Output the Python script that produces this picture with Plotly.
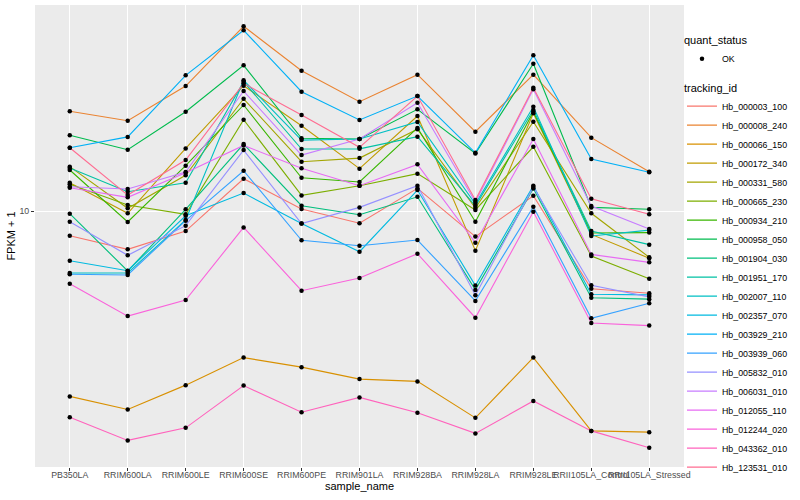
import plotly.graph_objects as go

samples = ["PB350LA", "RRIM600LA", "RRIM600LE", "RRIM600SE", "RRIM600PE", "RRIM901LA",
           "RRIM928BA", "RRIM928LA", "RRIM928LE", "RRII105LA_Control", "RRII105LA_Stressed"]

tracking_ids = ["Hb_000003_100", "Hb_000008_240", "Hb_000066_150", "Hb_000172_340", "Hb_000331_580",
                "Hb_000665_230", "Hb_000934_210", "Hb_000958_050", "Hb_001904_030", "Hb_001951_170",
                "Hb_002007_110", "Hb_002357_070", "Hb_003929_210", "Hb_003939_060", "Hb_005832_010",
                "Hb_006031_010", "Hb_012055_110", "Hb_012244_020", "Hb_043362_010", "Hb_123531_010"]

# FPKM + 1 values, one list per tracking_id, in sample order
Hb_000003_100 = [8.67, 8.02, 8.91, 12.04, 10.12, 9.32, 11.39, 8.63, 10.92, 6.39, 6.23]
Hb_000008_240 = [17.75, 16.82, 20.53, 28.96, 22.43, 18.76, 21.92, 15.79, 21.92, 15.25, 12.54]
Hb_000066_150 = [3.44, 3.19, 3.67, 4.30, 4.07, 3.80, 3.75, 3.04, 4.30, 2.82, 2.80]
Hb_000172_340 = [11.77, 9.87, 14.34, 20.57, 16.34, 12.76, 17.28, 7.96, 17.55, 8.74, 7.62]
Hb_000331_580 = [12.91, 10.16, 12.28, 19.08, 13.28, 13.56, 16.01, 10.17, 16.72, 9.87, 7.66]
Hb_000665_230 = [11.66, 10.35, 9.81, 16.92, 10.94, 11.57, 12.40, 10.06, 14.47, 7.72, 6.77]
Hb_000934_210 = [12.66, 9.39, 12.98, 18.41, 12.11, 11.82, 16.13, 9.40, 17.71, 8.81, 8.83]
Hb_000958_050 = [15.47, 14.23, 17.71, 23.13, 15.20, 15.14, 17.96, 13.92, 23.35, 10.21, 10.10]
Hb_001904_030 = [9.85, 7.08, 10.10, 14.70, 10.31, 9.79, 10.85, 6.35, 11.39, 6.07, 6.02]
Hb_001951_170 = [12.81, 11.17, 11.77, 21.05, 14.29, 14.30, 15.34, 10.29, 17.89, 8.91, 8.24]
Hb_002007_110 = [7.00, 7.00, 9.50, 21.22, 15.04, 15.14, 16.70, 10.41, 18.23, 8.66, 8.96]
Hb_002357_070 = [7.51, 7.09, 9.73, 11.09, 9.30, 7.91, 11.28, 6.51, 11.57, 6.19, 6.17]
Hb_003929_210 = [14.39, 15.32, 21.84, 28.30, 19.87, 16.89, 19.38, 13.98, 24.51, 13.49, 12.50]
Hb_003939_060 = [6.95, 6.92, 9.46, 12.61, 8.45, 8.19, 8.46, 5.96, 10.25, 5.39, 5.88]
Hb_005832_010 = [9.40, 7.75, 9.19, 14.20, 9.30, 10.21, 11.57, 6.16, 11.48, 6.52, 6.10]
Hb_006031_010 = [11.50, 11.35, 12.52, 19.95, 13.80, 15.14, 18.65, 10.53, 20.15, 10.29, 9.02]
Hb_012055_110 = [11.43, 10.82, 12.47, 14.59, 12.79, 11.57, 13.08, 8.33, 15.14, 7.79, 7.44]
Hb_012244_020 = [6.58, 5.46, 5.99, 9.10, 6.32, 6.80, 7.82, 5.41, 9.96, 5.25, 5.17]
Hb_043362_010 = [3.05, 2.67, 2.87, 3.66, 3.14, 3.42, 3.13, 2.78, 3.35, 2.82, 2.56]
Hb_123531_010 = [14.39, 10.96, 13.41, 20.85, 17.38, 14.43, 19.38, 10.65, 20.33, 10.73, 9.81]

series_values = [Hb_000003_100, Hb_000008_240, Hb_000066_150, Hb_000172_340, Hb_000331_580,
                 Hb_000665_230, Hb_000934_210, Hb_000958_050, Hb_001904_030, Hb_001951_170,
                 Hb_002007_110, Hb_002357_070, Hb_003929_210, Hb_003939_060, Hb_005832_010,
                 Hb_006031_010, Hb_012055_110, Hb_012244_020, Hb_043362_010, Hb_123531_010]

quant_status = ["OK"]
y_ticks = [10]

colors = ["#F8766D", "#EA8331", "#D89000", "#C09B00", "#A3A500", "#7CAE00", "#39B600", "#00BB4E",
          "#00BF7D", "#00C1A3", "#00BFC4", "#00BAE0", "#00B0F6", "#35A2FF", "#9590FF", "#C77CFF",
          "#E76BF3", "#FA62DB", "#FF62BC", "#FF6C91"]

FONT = "Liberation Sans, Arial, sans-serif"

fig = go.Figure()
for name, vals, col in zip(tracking_ids, series_values, colors):
    fig.add_trace(go.Scatter(x=samples, y=vals, mode="lines", name=name,
                             line=dict(color=col, width=1.1), legend="legend2",
                             showlegend=True, hoverinfo="skip"))

all_x, all_y = [], []
for vals in series_values:
    all_x.extend(samples)
    all_y.extend(vals)
fig.add_trace(go.Scatter(x=all_x, y=all_y, mode="markers", name=quant_status[0],
                         marker=dict(color="black", size=4.5), legend="legend",
                         showlegend=True, hoverinfo="skip"))

LEG_X = 0.9969
fig.update_layout(
    width=800, height=500,
    margin=dict(l=35, r=116, t=5, b=33),
    showlegend=True,
    paper_bgcolor="white", plot_bgcolor="#EBEBEB",
    font=dict(family=FONT, size=11, color="black"),
    xaxis=dict(type="category", categoryorder="array", categoryarray=samples,
               range=[-0.6, 10.6], showgrid=True, gridcolor="white", gridwidth=1.1,
               zeroline=False, showline=False, ticks="outside", ticklen=3,
               tickcolor="#333333", tickwidth=1, tickangle=0, automargin=False,
               ticklabelstandoff=-4,
               tickfont=dict(size=8.8, color="#4D4D4D", family=FONT),
               title=dict(text="sample_name", font=dict(size=11, color="black"), standoff=1)),
    yaxis=dict(type="log", range=[0.36, 1.515], tickvals=y_ticks, ticktext=[str(v) for v in y_ticks],
               showgrid=True, gridcolor="white", gridwidth=1.1, zeroline=False, showline=False,
               ticks="outside", ticklen=3, tickcolor="#333333", tickwidth=1, automargin=False,
               tickfont=dict(size=8.8, color="#4D4D4D", family=FONT),
               title=dict(text="FPKM + 1", font=dict(size=11, color="black"), standoff=1)),
    legend=dict(title=dict(text="quant_status", font=dict(size=11)), x=LEG_X, xanchor="left",
                y=0.946, yanchor="top", font=dict(size=8.8), bgcolor="rgba(0,0,0,0)",
                itemclick=False),
    legend2=dict(title=dict(text="tracking_id", font=dict(size=11)), x=LEG_X, xanchor="left",
                 y=0.8435, yanchor="top", font=dict(size=8.8), bgcolor="rgba(0,0,0,0)",
                 tracegroupgap=0, itemclick=False),
)

fig.write_html("out.html", config={"displayModeBar": False},
               post_script="document.body.style.margin='0px';document.body.style.padding='0px';")
